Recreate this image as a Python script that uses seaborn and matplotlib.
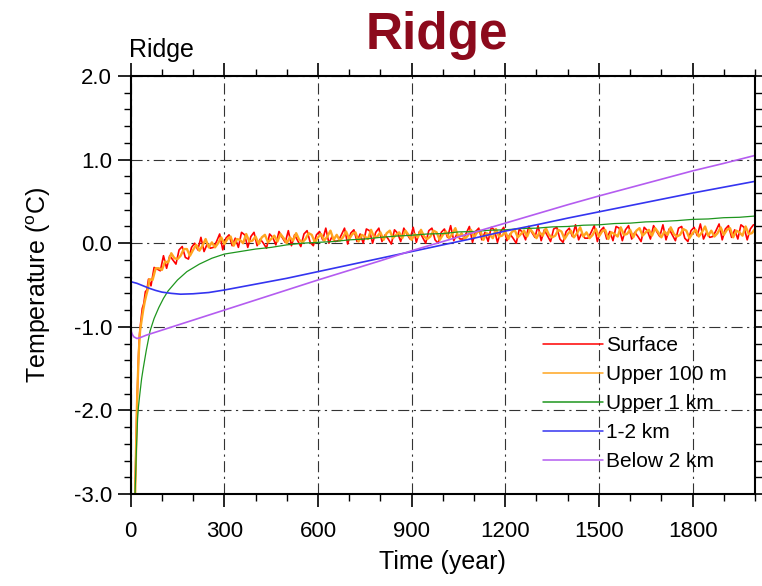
import numpy as np
import pandas as pd
import matplotlib
matplotlib.use("Agg")
import matplotlib.pyplot as plt
from matplotlib.ticker import MultipleLocator, FixedLocator
import seaborn as sns

# ---------------- data ----------------
surface_years = [13, 15, 17, 19, 22, 25, 28, 32, 37, 42, 47, 52, 57] + list(range(65, 2000, 10))
surface_vals = [
    -3.1, -2.8, -2.45, -2.1, -1.7, -1.35, -1.1, -0.95, -0.78, -0.72, -0.58, -0.56, -0.43,
    -0.51, -0.29, -0.31, -0.33, -0.15, -0.30, -0.15, -0.20, -0.25, -0.08,
    -0.04, -0.17, -0.19, -0.05, 0.00, -0.08, 0.07, -0.10, -0.01, -0.06,
    -0.05, 0.02, 0.11, -0.08, 0.06, 0.10, -0.03, 0.06, -0.05, 0.13,
    0.10, -0.05, 0.08, 0.13, -0.03, 0.05, 0.00, -0.06, 0.11, 0.07,
    -0.02, 0.14, 0.07, 0.01, 0.15, -0.03, 0.10, 0.03, -0.04, 0.11,
    0.15, 0.01, -0.03, 0.10, 0.14, 0.04, 0.18, 0.00, 0.08, 0.02,
    0.03, 0.10, 0.18, -0.01, 0.12, 0.16, 0.02, 0.11, 0.00, 0.17,
    0.15, 0.00, 0.13, 0.18, 0.02, 0.10, 0.05, -0.01, 0.16, 0.12,
    0.02, 0.18, 0.11, 0.05, 0.19, 0.01, 0.14, 0.07, 0.00, 0.15,
    0.18, 0.04, 0.00, 0.13, 0.17, 0.07, 0.21, 0.03, 0.11, 0.05,
    0.05, 0.12, 0.20, 0.01, 0.14, 0.18, 0.04, 0.13, 0.02, 0.19,
    0.16, 0.01, 0.14, 0.19, 0.03, 0.11, 0.06, 0.00, 0.17, 0.13,
    0.04, 0.20, 0.13, 0.07, 0.21, 0.03, 0.16, 0.09, 0.02, 0.17,
    0.19, 0.05, 0.01, 0.14, 0.18, 0.08, 0.22, 0.04, 0.12, 0.06,
    0.06, 0.13, 0.21, 0.02, 0.15, 0.19, 0.05, 0.14, 0.03, 0.20,
    0.18, 0.03, 0.16, 0.21, 0.05, 0.13, 0.08, 0.02, 0.19, 0.15,
    0.05, 0.21, 0.14, 0.08, 0.22, 0.04, 0.17, 0.10, 0.03, 0.18,
    0.20, 0.06, 0.02, 0.15, 0.19, 0.09, 0.23, 0.05, 0.13, 0.07,
    0.08, 0.15, 0.23, 0.04, 0.17, 0.21, 0.07, 0.16, 0.05, 0.22,
    0.19, 0.04, 0.17, 0.22,
]

upper100_years = [14, 16, 18, 20, 23, 26, 30, 35, 40, 45, 50, 55] + list(range(60, 2001, 10))
upper100_vals = [
    -3.05, -2.7, -2.3, -1.95, -1.6, -1.3, -1.05, -0.92, -0.80, -0.70, -0.62, -0.55,
    -0.43, -0.44, -0.30, -0.30, -0.32, -0.22, -0.23, -0.12, -0.18, -0.19,
    -0.15, -0.07, -0.07, -0.15, -0.08, -0.02, -0.09, -0.03, 0.05, -0.05,
    0.01, -0.05, 0.00, 0.07, -0.01, 0.05, 0.08, -0.03, 0.05, 0.04,
    0.00, 0.11, 0.02, 0.03, 0.08, -0.01, 0.07, 0.10, 0.01, 0.05,
    0.09, 0.02, 0.11, 0.06, 0.00, 0.07, 0.03, 0.12, 0.04, 0.01,
    0.05, 0.12, 0.10, 0.01, 0.07, 0.11, 0.03, 0.08, 0.15, 0.04,
    0.10, 0.03, 0.07, 0.14, 0.05, 0.11, 0.13, 0.02, 0.10, 0.08,
    0.05, 0.16, 0.07, 0.08, 0.13, 0.04, 0.12, 0.15, 0.06, 0.10,
    0.13, 0.06, 0.15, 0.10, 0.04, 0.11, 0.07, 0.16, 0.08, 0.05,
    0.08, 0.15, 0.13, 0.04, 0.10, 0.14, 0.06, 0.11, 0.18, 0.07,
    0.12, 0.05, 0.09, 0.16, 0.07, 0.13, 0.15, 0.04, 0.12, 0.10,
    0.06, 0.17, 0.08, 0.09, 0.14, 0.05, 0.13, 0.16, 0.07, 0.11,
    0.15, 0.08, 0.17, 0.12, 0.06, 0.13, 0.09, 0.18, 0.10, 0.07,
    0.09, 0.16, 0.14, 0.05, 0.11, 0.15, 0.07, 0.12, 0.19, 0.08,
    0.13, 0.06, 0.10, 0.17, 0.08, 0.14, 0.16, 0.05, 0.13, 0.11,
    0.08, 0.19, 0.10, 0.11, 0.16, 0.07, 0.15, 0.18, 0.09, 0.13,
    0.16, 0.09, 0.18, 0.13, 0.07, 0.14, 0.10, 0.19, 0.11, 0.08,
    0.10, 0.17, 0.15, 0.06, 0.12, 0.16, 0.08, 0.13, 0.20, 0.09,
    0.15, 0.08, 0.12, 0.19, 0.10, 0.16, 0.18, 0.07, 0.15, 0.13,
    0.09, 0.20, 0.11, 0.12, 0.17,
]

upper1km_years = [12, 14, 16, 18, 20, 22, 25, 30, 35, 40, 50, 62, 75, 90, 105, 120, 150, 180,
                  220, 260, 300, 350, 400, 450, 500, 550, 600, 650, 700, 750, 800, 850, 900,
                  950, 1000, 1050, 1100, 1150, 1200, 1250, 1300, 1350, 1400, 1450, 1500, 1550,
                  1600, 1650, 1700, 1750, 1800, 1850, 1900, 1950, 2000]
upper1km_vals = [-3.4, -3.0, -2.75, -2.5, -2.3, -2.1, -1.95, -1.78, -1.62, -1.5, -1.28, -1.05,
                 -0.9, -0.77, -0.66, -0.57, -0.44, -0.34, -0.25, -0.18, -0.13, -0.10, -0.07,
                 -0.05, -0.02, 0.0, 0.01, 0.02, 0.04, 0.05, 0.07, 0.085, 0.095, 0.11, 0.115,
                 0.135, 0.14, 0.155, 0.16, 0.175, 0.18, 0.195, 0.20, 0.215, 0.22, 0.235, 0.24,
                 0.255, 0.26, 0.27, 0.285, 0.29, 0.305, 0.31, 0.325]

km12_years = [0, 20, 40, 60, 80, 100, 130, 160, 200, 250, 300, 400, 500, 600, 700, 800, 900,
              1000, 1100, 1200, 1300, 1400, 1500, 1600, 1700, 1800, 1900, 2000]
km12_vals = [-0.46, -0.48, -0.51, -0.54, -0.565, -0.585, -0.60, -0.61, -0.605, -0.59, -0.56,
             -0.49, -0.42, -0.34, -0.26, -0.18, -0.10, -0.02, 0.06, 0.145, 0.22, 0.30, 0.375,
             0.45, 0.525, 0.60, 0.67, 0.74]

below2_years = [0, 5, 10, 20, 30, 50, 100, 150, 200, 300, 400, 500, 600, 700, 800, 900, 1000,
                1100, 1200, 1300, 1400, 1500, 1600, 1700, 1800, 1900, 2000]
below2_vals = [-1.04, -1.09, -1.12, -1.14, -1.13, -1.10, -1.04, -0.98, -0.92, -0.80, -0.68,
               -0.56, -0.44, -0.325, -0.21, -0.09, 0.02, 0.13, 0.24, 0.35, 0.46, 0.565, 0.665,
               0.765, 0.865, 0.955, 1.05]

series_names = ["Surface", "Upper 100 m", "Upper 1 km", "1-2 km", "Below 2 km"]
series_colors = ["#FF0000", "#FFA520", "#1E961E", "#3434F0", "#B45CF0"]
series_widths = [1.2, 1.7, 0.9, 1.2, 1.2]

xticks = [0, 300, 600, 900, 1200, 1500, 1800]
yticks = [-3.0, -2.0, -1.0, 0.0, 1.0, 2.0]
ytick_labels = ["-3.0", "-2.0", "-1.0", "0.0", "1.0", "2.0"]

# ---------------- plotting ----------------
sns.set_style("white")
plt.rcParams["font.family"] = ["Liberation Sans", "DejaVu Sans"]
plt.rcParams["mathtext.fontset"] = "custom"
plt.rcParams["mathtext.rm"] = "Liberation Sans"
plt.rcParams["mathtext.it"] = "Liberation Sans"
plt.rcParams["text.color"] = "black"
plt.rcParams["axes.labelcolor"] = "black"
plt.rcParams["xtick.color"] = "black"
plt.rcParams["ytick.color"] = "black"

fig = plt.figure(figsize=(7.62, 5.86), dpi=100)
ax = fig.add_axes([130.7 / 762, 1 - 494 / 586, (755 - 130.7) / 762, (494 - 76) / 586])

all_years = [surface_years, upper100_years, upper1km_years, km12_years, below2_years]
all_vals = [surface_vals, upper100_vals, upper1km_vals, km12_vals, below2_vals]
for name, yrs, vals, col, lw in zip(series_names, all_years, all_vals, series_colors, series_widths):
    df = pd.DataFrame({"year": yrs, "temp": vals})
    sns.lineplot(data=df, x="year", y="temp", color=col, linewidth=lw, label=name,
                 errorbar=None, ax=ax)

ax.set_xlim(0, 2000)
ax.set_ylim(-3.0, 2.0)

ax.xaxis.set_major_locator(FixedLocator(xticks))
ax.xaxis.set_minor_locator(MultipleLocator(100))
ax.set_xticklabels([str(t) for t in xticks])
ax.yaxis.set_major_locator(FixedLocator(yticks))
ax.yaxis.set_minor_locator(MultipleLocator(0.2))
ax.set_yticklabels(ytick_labels)

ax.tick_params(which="both", direction="out", top=True, right=True, bottom=True, left=True,
               labelsize=16, color="black", labelcolor="black")
ax.tick_params(axis="x", which="major", pad=10)
ax.tick_params(axis="y", which="major", pad=4)
ax.tick_params(which="major", length=9.5, width=1.2)
ax.tick_params(which="minor", length=5, width=1.0)

for sp in ax.spines.values():
    sp.set_linewidth(1.5)
    sp.set_color("black")

ax.grid(which="major", color="#333333", linewidth=0.8, linestyle=(0, (10, 4, 2, 4)))

ax.set_xlabel("Time (year)", fontsize=18, labelpad=6)
ax.set_ylabel(r"Temperature ($^\mathrm{o}$C)", fontsize=18, labelpad=15)

leg = ax.legend(loc="upper left", bbox_to_anchor=(0.66, 0.378), frameon=False, fontsize=15,
                handlelength=2.9, handletextpad=0.15, labelspacing=0.48, borderpad=0,
                borderaxespad=0)
for h in leg.get_lines():
    h.set_linewidth(1.1)

fig.text(436.5 / 762, 1 - 49 / 586, "Ridge", color="#8C0A1C", fontsize=37, fontweight="bold",
         ha="center", va="baseline")
fig.text(129 / 762, 1 - 57 / 586, "Ridge", color="black", fontsize=18, ha="left", va="baseline")

fig.savefig("out.png", dpi=100)
